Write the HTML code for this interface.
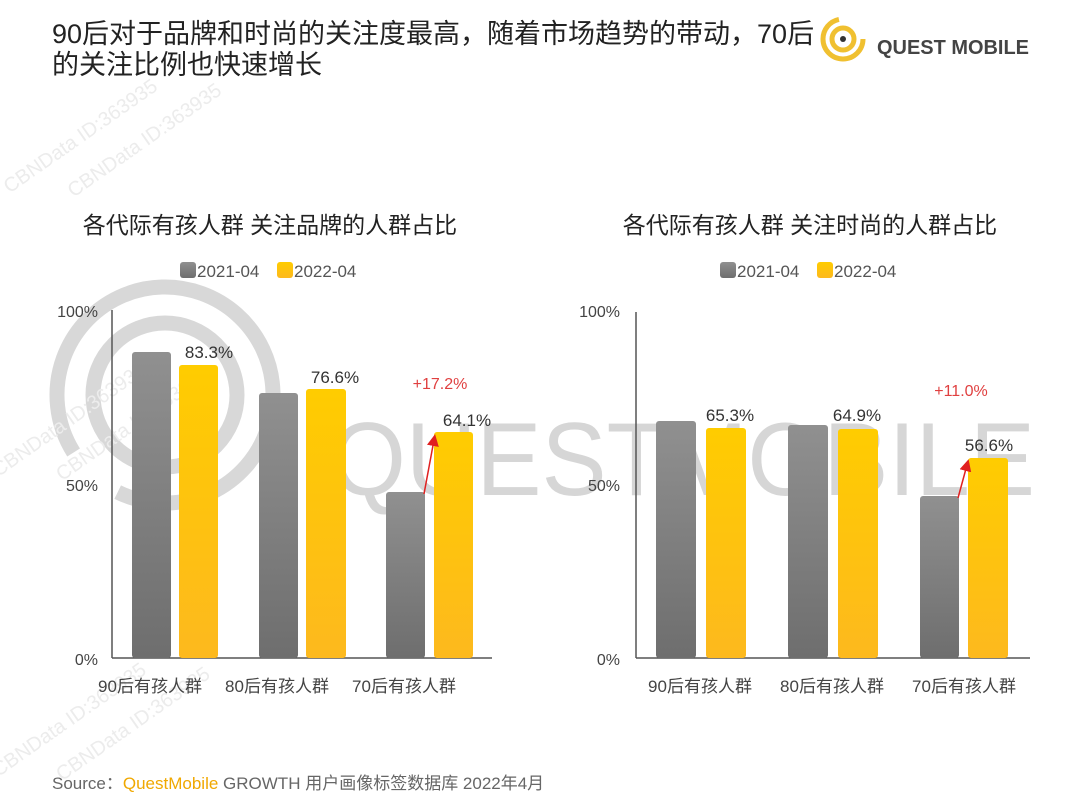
<!DOCTYPE html>
<html><head><meta charset="utf-8"><style>
body{margin:0;width:1080px;height:810px;background:#fff;overflow:hidden;position:relative;font-family:"Liberation Sans","Noto Sans CJK SC",sans-serif;}
</style></head><body>
<svg width="1080" height="810" xmlns="http://www.w3.org/2000/svg" style="position:absolute;left:0;top:0" font-family="Liberation Sans, Noto Sans CJK SC, sans-serif">
<defs>
<linearGradient id="g" x1="0" y1="0" x2="0" y2="1"><stop offset="0" stop-color="#909090"/><stop offset="1" stop-color="#6e6e6e"/></linearGradient>
<linearGradient id="y" x1="0" y1="0" x2="0" y2="1"><stop offset="0" stop-color="#ffcc00"/><stop offset="1" stop-color="#fdb91e"/></linearGradient>
<marker id="ar" markerWidth="8" markerHeight="8" refX="4" refY="4" orient="auto"><path d="M0,0 L8,4 L0,8z" fill="#e02020"/></marker>
</defs>
<!-- watermark -->
<g fill="none" stroke="#d8d8d8" stroke-width="15">
<circle cx="165" cy="395" r="108" stroke-dasharray="520 60" transform="rotate(200 165 395)"/>
<circle cx="165" cy="395" r="72"/>
</g>
<text x="330" y="495" font-size="104" fill="#d6d6d6" textLength="705" lengthAdjust="spacingAndGlyphs">QUESTMOBILE</text>
<g fill="#ececec" font-size="20" transform="rotate(-35 80 120)"><text x="-20" y="140">CBNData ID:363935</text><text x="30" y="180">CBNData ID:363935</text></g>
<g fill="#ececec" font-size="20" transform="rotate(-35 80 420)"><text x="-20" y="420">CBNData ID:363935</text><text x="30" y="460">CBNData ID:363935</text></g>
<g fill="#ececec" font-size="20" transform="rotate(-35 80 720)"><text x="-20" y="720">CBNData ID:363935</text><text x="30" y="760">CBNData ID:363935</text></g>

<!-- header -->
<text x="52" y="43" font-size="27" fill="#222">90后对于品牌和时尚的关注度最高，随着市场趋势的带动，70后</text>
<text x="52" y="74" font-size="27" fill="#222">的关注比例也快速增长</text>
<g fill="none" stroke="#f0c030" stroke-width="5"><circle cx="843" cy="39" r="20" stroke-dasharray="90 36"/><circle cx="843" cy="39" r="11"/></g>
<circle cx="843" cy="39" r="3" fill="#333"/>
<text x="877" y="54" font-size="20" font-weight="bold" fill="#444" textLength="152" lengthAdjust="spacingAndGlyphs">QUEST MOBILE</text>

<!-- left chart -->
<text x="270" y="233" font-size="23" fill="#222" text-anchor="middle">各代际有孩人群 关注品牌的人群占比</text>
<rect x="180" y="262" width="16" height="16" rx="3" fill="url(#g)"/><text x="197" y="277" font-size="17" fill="#555">2021-04</text>
<rect x="277" y="262" width="16" height="16" rx="3" fill="url(#y)"/><text x="294" y="277" font-size="17" fill="#555">2022-04</text>
<g font-size="16" fill="#444" text-anchor="end"><text x="98" y="317">100%</text><text x="98" y="491">50%</text><text x="98" y="665">0%</text></g>
<line x1="112" y1="310" x2="112" y2="658" stroke="#555" stroke-width="1.5"/>
<line x1="112" y1="658" x2="492" y2="658" stroke="#555" stroke-width="1.5"/>
<rect x="132" y="352" width="39" height="306" rx="3" fill="url(#g)"/>
<rect x="179" y="365" width="39" height="293" rx="3" fill="url(#y)"/>
<rect x="259" y="393" width="39" height="265" rx="3" fill="url(#g)"/>
<rect x="306" y="389" width="40" height="269" rx="3" fill="url(#y)"/>
<rect x="386" y="492" width="39" height="166" rx="3" fill="url(#g)"/>
<rect x="434" y="432" width="39" height="226" rx="3" fill="url(#y)"/>
<g font-size="17" fill="#333" text-anchor="middle"><text x="209" y="358">83.3%</text><text x="335" y="383">76.6%</text><text x="467" y="426">64.1%</text></g>
<text x="440" y="389" font-size="16" fill="#e04040" text-anchor="middle">+17.2%</text>
<line x1="424" y1="494" x2="434" y2="440" stroke="#e02020" stroke-width="1.5" marker-end="url(#ar)"/>
<g font-size="17" fill="#444" text-anchor="middle"><text x="150" y="692">90后有孩人群</text><text x="277" y="692">80后有孩人群</text><text x="404" y="692">70后有孩人群</text></g>

<!-- right chart -->
<text x="810" y="233" font-size="23" fill="#222" text-anchor="middle">各代际有孩人群 关注时尚的人群占比</text>
<rect x="720" y="262" width="16" height="16" rx="3" fill="url(#g)"/><text x="737" y="277" font-size="17" fill="#555">2021-04</text>
<rect x="817" y="262" width="16" height="16" rx="3" fill="url(#y)"/><text x="834" y="277" font-size="17" fill="#555">2022-04</text>
<g font-size="16" fill="#444" text-anchor="end"><text x="620" y="317">100%</text><text x="620" y="491">50%</text><text x="620" y="665">0%</text></g>
<line x1="636" y1="312" x2="636" y2="658" stroke="#555" stroke-width="1.5"/>
<line x1="636" y1="658" x2="1030" y2="658" stroke="#555" stroke-width="1.5"/>
<rect x="656" y="421" width="40" height="237" rx="3" fill="url(#g)"/>
<rect x="706" y="428" width="40" height="230" rx="3" fill="url(#y)"/>
<rect x="788" y="425" width="40" height="233" rx="3" fill="url(#g)"/>
<rect x="838" y="429" width="40" height="229" rx="3" fill="url(#y)"/>
<rect x="920" y="496" width="39" height="162" rx="3" fill="url(#g)"/>
<rect x="968" y="458" width="40" height="200" rx="3" fill="url(#y)"/>
<g font-size="17" fill="#333" text-anchor="middle"><text x="730" y="421">65.3%</text><text x="857" y="421">64.9%</text><text x="989" y="451">56.6%</text></g>
<text x="961" y="396" font-size="16" fill="#e04040" text-anchor="middle">+11.0%</text>
<line x1="958" y1="498" x2="967" y2="465" stroke="#e02020" stroke-width="1.5" marker-end="url(#ar)"/>
<g font-size="17" fill="#444" text-anchor="middle"><text x="700" y="692">90后有孩人群</text><text x="832" y="692">80后有孩人群</text><text x="964" y="692">70后有孩人群</text></g>

<!-- source -->
<text x="52" y="789" font-size="17" fill="#666">Source：<tspan fill="#f0a800">QuestMobile</tspan> GROWTH 用户画像标签数据库 2022年4月</text>
</svg>
</body></html>
